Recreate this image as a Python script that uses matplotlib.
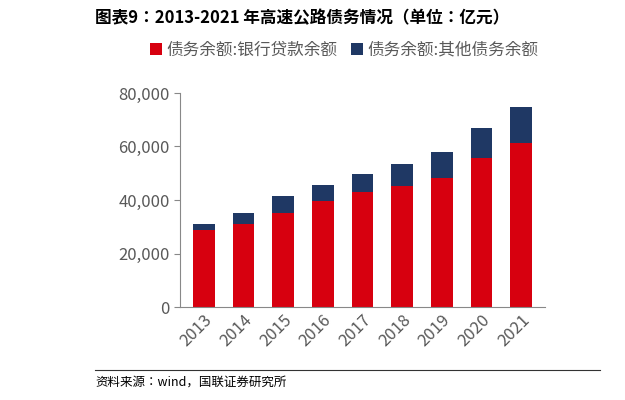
import matplotlib
matplotlib.use("Agg")
import matplotlib.pyplot as plt
from matplotlib import font_manager as fm
from matplotlib.ticker import FuncFormatter

cjk = [f for f in fm.findSystemFonts() if "CJK" in f or "cjk" in f.lower()]
fam = None
for f in cjk:
    try:
        fm.fontManager.addfont(f)
        name = fm.FontProperties(fname=f).get_name()
        if fam is None or "SC" in name:
            fam = name
    except Exception:
        pass
plt.rcParams["font.family"] = [fam] if fam else ["Noto Sans CJK SC", "Noto Sans CJK JP"]

years = ["2013", "2014", "2015", "2016", "2017", "2018", "2019", "2020", "2021"]
bank_loans = [28800, 31200, 35300, 39500, 43100, 45400, 48300, 55800, 61200]
totals = [31000, 35200, 41400, 45500, 49800, 53600, 58000, 66800, 74800]
other_debt = [t - b for t, b in zip(totals, bank_loans)]

fig = plt.figure(figsize=(6.25, 4.0), dpi=100)
ax = fig.add_axes([0.288, 0.2325, 0.584, 0.535])
x = range(len(years))
ax.bar(x, bank_loans, width=0.55, color="#D7000F", label="债务余额:银行贷款余额")
ax.bar(x, other_debt, width=0.55, bottom=bank_loans, color="#1F3864", label="债务余额:其他债务余额")
ax.set_ylim(0, 80000)
ax.set_yticks(range(0, 80001, 20000))
ax.yaxis.set_major_formatter(FuncFormatter(lambda v, p: f"{int(v):,}"))
ax.set_xticks(list(x))
ax.set_xticklabels(years, rotation=45, ha="right", rotation_mode="anchor")
ax.set_xlim(-0.6, len(years) - 0.4)
for s in ["top", "right"]:
    ax.spines[s].set_visible(False)
ax.spines["left"].set_color("#888888")
ax.spines["bottom"].set_color("#888888")
ax.tick_params(colors="#595959", labelsize=12, length=0)
ax.tick_params(axis="y", length=4, direction="out", color="#888888")
ax.legend(loc="lower center", bbox_to_anchor=(0.45, 1.09), ncol=2, frameon=False,
          fontsize=12, handlelength=0.7, handleheight=0.7, columnspacing=0.8,
          handletextpad=0.3, labelcolor="#595959")

fig.text(0.152, 0.955, "图表9：2013-2021 年高速公路债务情况（单位：亿元）",
         fontsize=12, fontweight="bold", va="center")
fig.add_artist(plt.Line2D([0.152, 0.96], [0.075, 0.075], color="#333333", lw=0.8))
fig.text(0.152, 0.045, "资料来源：wind，国联证券研究所", fontsize=9, va="center")

fig.savefig("out.png", dpi=100)
